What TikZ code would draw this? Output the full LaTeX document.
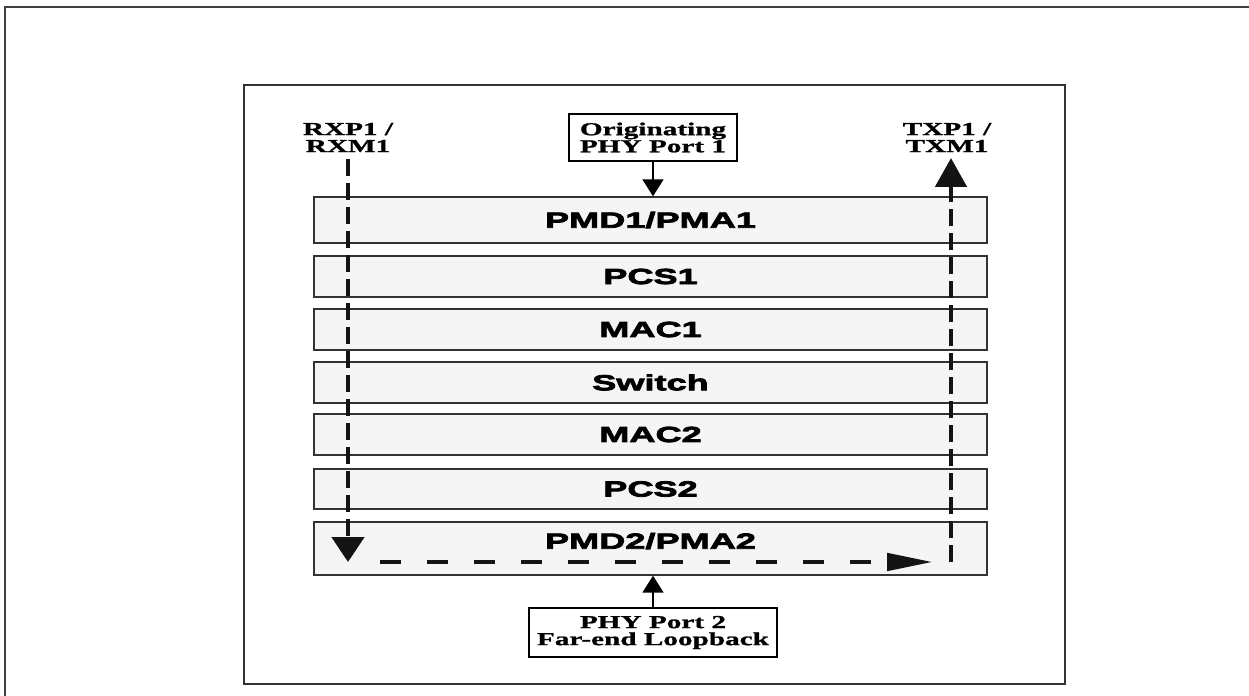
\documentclass[tikz,border=0pt]{standalone}
\usepackage{fontspec}
\setmainfont{Liberation Serif}
\newfontfamily\layerfont[FakeStretch=1.66, FakeBold=3.6]{Liberation Sans}
\newfontfamily\tagfont[FakeStretch=1.6, FakeBold=1.2]{Liberation Serif}
\usetikzlibrary{arrows.meta}

\tikzset{
  layer/.style={draw=black!80, fill=black!4, line width=0.8pt, minimum width=13.46cm,
                font=\layerfont\bfseries\fontsize{12.4}{13}\selectfont},
  tag/.style={align=center, inner sep=1pt, font=\tagfont\bfseries\fontsize{10.4}{9.7}\selectfont},
  portbox/.style={tag, draw, line width=1pt},
  flow/.style={line width=2.8pt, color=black!92, dash pattern=on 0.34cm off 0.14cm},
  feed/.style={line width=0.9pt, -{Triangle[width=0.42cm, length=0.34cm]}}
}

\begin{document}
\begin{tikzpicture}[x=0.02cm, y=-0.02cm]
            \useasboundingbox (0,0) rectangle (1249,696);
            \clip (0,0) rectangle (1249,696);
            \draw [line width=1.3pt, color=black!75] (5,7) rectangle (1270,720);
            \draw [line width=0.7pt, color=black!80] (244,85) rectangle (1065,684);
            
            \node[layer, minimum height=0.92cm] (pmd1) at (650.5,220) {PMD1/PMA1};
            \node[layer, minimum height=0.82cm] (pcs1) at (650.5,276.5) {PCS1};
            \node[layer, minimum height=0.82cm] (mac1) at (650.5,329.5) {MAC1};
            \node[layer, minimum height=0.82cm] (switch) at (650.5,382.5) {Switch};
            \node[layer, minimum height=0.82cm] (mac2) at (650.5,434.5) {MAC2};
            \node[layer, minimum height=0.80cm] (pcs2) at (650.5,489) {PCS2};
            \node[layer, minimum height=1.06cm] (pmd2) at (650.5,548.5) {};
            \node[layer, draw=none, fill=none] (pmd2text) at (650.5,541) {PMD2/PMA2};
            
            \node[tag] (rx) at (348,137.5) {RXP1 /\\RXM1};
            \node[tag] (tx) at (947,137.5) {TXP1 /\\TXM1};
            \node[portbox, minimum width=3.36cm, minimum height=0.94cm] (origin) at (653,137.5) {Originating\\PHY Port 1};
            \node[portbox, minimum width=4.96cm, minimum height=0.98cm] (farend) at (653,632.5) {PHY Port 2\\Far-end Loopback};
            
            \coordinate (rxtop) at (348,159);
            \coordinate (rxdown) at (348,562);
            \coordinate (loopin) at (380,562);
            \coordinate (loopout) at (933,562);
            \coordinate (txup) at (951,562);
            \coordinate (txtop) at (951,158);
            
            % path of the looped frame
            \draw[flow, -{Triangle[width=0.64cm, length=0.5cm]}] (rxtop) -- (rxdown);
            \draw[flow, dash pattern=on 0.42cm off 0.52cm, -{Triangle[width=0.34cm, length=0.92cm]}] (loopin) -- (loopout);
            \draw[flow, -{Triangle[width=0.62cm, length=0.58cm]}] (txup) -- (txtop);
            
            \draw[feed] (origin.south) -- (origin.south |- pmd1.north);
            \draw[feed] (farend.north) -- (farend.north |- pmd2.south);
        \end{tikzpicture}
\end{document}
